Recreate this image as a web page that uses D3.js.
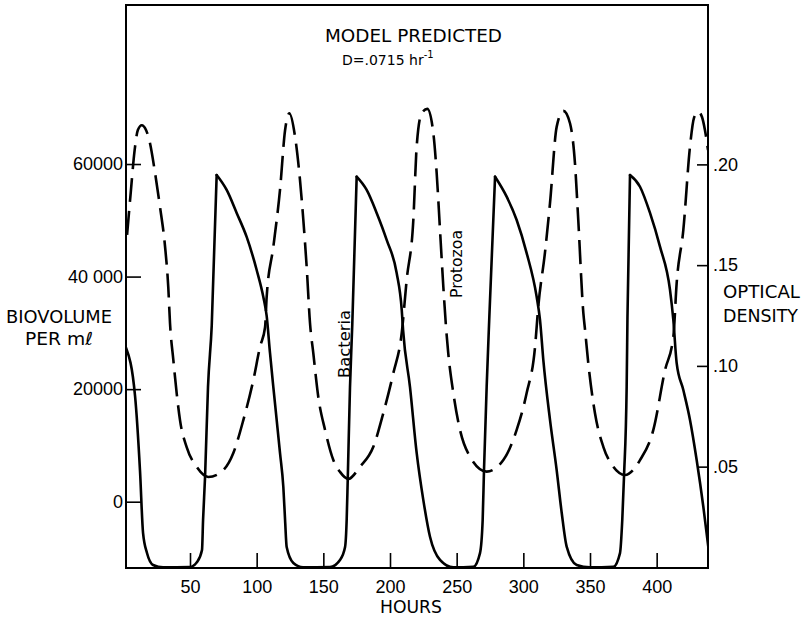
<!DOCTYPE html>
<html>
<head>
<meta charset="utf-8">
<script src="https://cdn.jsdelivr.net/npm/d3@7/dist/d3.min.js"></script>
<style>
  html, body { margin: 0; padding: 0; background: #fff; }
  svg { display: block; font-family: "DejaVu Sans", sans-serif; }
  .tick text { font-size: 18px; fill: #000; }
  .tick line { stroke: #000; stroke-width: 1.6; }
</style>
</head>
<body>
<div id="chart"></div>
<script>
// Bacteria: optical density (right axis)
const bactHours = [2.0, 8.8, 12.5, 14.8, 17.8, 22.3, 29.8, 50.0, 55.3, 59.0, 59.8, 61.3, 63.5, 66.3,
  70.0, 77.5, 85.0, 92.5, 100.0, 105.0, 107.5, 110.0, 112.5, 115.0, 117.5, 120.0, 121.3, 122.5, 127.5, 134.8,
  155.0, 162.5, 166.3, 167.5, 168.3, 170.0, 171.7,
  175.0, 182.5, 190.0, 197.5, 205.0, 208.8, 209.8, 215.0, 220.0, 225.0, 230.0, 237.5, 247.5,
  262.5, 267.5, 269.5, 270.5, 272.5, 274.5,
  278.8, 287.5, 295.0, 302.5, 310.0, 312.5, 315.0, 320.0, 325.0, 328.8, 332.5, 340.0, 350.0,
  367.5, 372.5, 374.2, 375.5, 377.5, 378.1,
  380.0, 387.5, 395.0, 402.5, 410.0, 412.5, 415.0, 420.0, 425.0, 430.0, 435.0, 438.7];
const bactOD = [0.109, 0.085, 0.048, 0.017, 0.007, 0.0012, 0.0, 0.0002, 0.0027, 0.0086, 0.0235, 0.045, 0.0895, 0.120,
  0.1947, 0.1873, 0.1759, 0.164, 0.1476, 0.1342, 0.1248, 0.1064, 0.0895, 0.0732, 0.0568, 0.0399, 0.0236, 0.0101, 0.0022, 0.0,
  0.0002, 0.0037, 0.0101, 0.0235, 0.0434, 0.0895, 0.1203,
  0.1939, 0.1873, 0.1759, 0.1625, 0.1461, 0.1278, 0.1179, 0.0895, 0.0568, 0.0334, 0.0152, 0.0037, 0.0,
  0.0003, 0.0071, 0.0235, 0.0483, 0.0897, 0.1243,
  0.1939, 0.184, 0.1724, 0.156, 0.1343, 0.1228, 0.1029, 0.0732, 0.0483, 0.027, 0.0103, 0.0012, 0.0,
  0.0003, 0.0071, 0.0235, 0.045, 0.0897, 0.1243,
  0.1947, 0.1889, 0.1759, 0.1592, 0.1377, 0.1228, 0.1014, 0.088, 0.0732, 0.0533, 0.0301, 0.0103];

// Protozoa: biovolume per ml (left axis)
const protoHours = [2.8, 5.5, 8.5, 10.9, 13.8, 17.0, 20.0, 23.8, 27.5, 31.3, 33.7, 35.0, 37.5, 40.0, 42.5, 47.5, 55.0,
  63.7, 72.5, 82.5, 90.0, 97.5, 102.5, 106.3, 107.5, 112.5, 117.5, 121.3,
  124.5, 128.8, 132.5, 135.0, 137.5, 140.0, 142.5, 146.2, 151.3, 157.5, 162.5,
  168.7, 177.5, 187.5, 195.0, 202.5, 208.8, 212.5, 217.5, 220.0, 223.8,
  228.0, 232.5, 235.0, 237.5, 240.0, 242.0, 243.7, 247.5, 252.5, 260.0,
  272.5, 285.0, 295.0, 302.5, 308.8, 311.2, 316.2, 320.0, 325.0,
  330.0, 335.0, 338.7, 341.2, 345.0, 346.3, 348.7, 353.7, 360.0, 367.5,
  376.3, 387.5, 397.5, 406.3, 412.5, 415.0, 420.0, 425.0, 428.0,
  431.2, 434.0, 436.2, 438.5];
const protoBiovol = [47400, 54800, 62500, 66050, 66900, 66050, 63700, 58400, 52400, 45300, 38150, 31750, 25200, 19300, 14500, 9700, 6200,
  4400, 5100, 8650, 14500, 21600, 27500, 31000, 36400, 45300, 55400, 66000,
  69000, 64850, 57150, 50050, 41750, 31750, 26350, 18650, 12750, 7400, 5300,
  4050, 6200, 9750, 15750, 22850, 30000, 39400, 50050, 63100, 69050,
  69800, 65500, 58400, 48300, 38200, 31100, 26350, 19300, 12750, 8000,
  5350, 7400, 12750, 19300, 27550, 34650, 44200, 53050, 66600,
  69450, 67250, 60200, 50050, 33550, 30500, 24650, 15750, 9750, 6200,
  4750, 7400, 12750, 23400, 29300, 38850, 48300, 63100, 68200,
  69300, 68350, 66050, 62500];

// Axis ticks and labels
const xTicks = [50, 100, 150, 200, 250, 300, 350, 400];
const leftTicks = [0, 20000, 40000, 60000];
const leftTickLabels = ["0", "20000", "40 000", "60000"];
const rightTicks = [0.05, 0.10, 0.15, 0.20];
const rightTickLabels = [".05", ".10", ".15", ".20"];

const width = 803, height = 618;
const margin = { top: 5, right: 95, bottom: 50, left: 126 };
const x0 = margin.left, x1 = width - margin.right;
const y0 = margin.top, y1 = height - margin.bottom;

const svg = d3.select("#chart").append("svg")
    .attr("width", width)
    .attr("height", height);

const x = d3.scaleLinear().domain([2, 438.5]).range([x0, x1]);
const yLeft = d3.scaleLinear().domain([-11780, 88255]).range([y1, y0]);
const yRight = d3.scaleLinear().domain([-0.0003, 0.2791]).range([y1, y0]);

svg.append("clipPath").attr("id", "plotclip")
    .append("rect")
    .attr("x", x0).attr("y", y0)
    .attr("width", x1 - x0).attr("height", y1 - y0);

// Axes (ticks pointing inward)
const bottomAxis = d3.axisBottom(x).tickValues(xTicks).tickSizeInner(-15).tickSizeOuter(0).tickPadding(12);
const leftAxis = d3.axisLeft(yLeft).tickValues(leftTicks)
    .tickFormat((d, i) => leftTickLabels[i]).tickSizeInner(-15).tickSizeOuter(0).tickPadding(3);
const rightAxis = d3.axisRight(yRight).tickValues(rightTicks)
    .tickFormat((d, i) => rightTickLabels[i]).tickSizeInner(-11).tickSizeOuter(0).tickPadding(5);

svg.append("g").attr("transform", `translate(0,${y1})`).call(bottomAxis);
svg.append("g").attr("transform", `translate(${x0},0)`).call(leftAxis);
svg.append("g").attr("transform", `translate(${x1},0)`).call(rightAxis);
svg.selectAll(".domain").remove();
svg.selectAll(".tick text").attr("font-family", null).attr("font-size", null);

// frame
svg.append("rect")
    .attr("x", x0).attr("y", y0)
    .attr("width", x1 - x0).attr("height", y1 - y0)
    .attr("fill", "none").attr("stroke", "#000").attr("stroke-width", 2);

const plot = svg.append("g").attr("clip-path", "url(#plotclip)");

// protozoa, smooth dashed
const protoLine = d3.line()
    .x((d, i) => x(protoHours[i]))
    .y(d => yLeft(d))
    .curve(d3.curveMonotoneX);

plot.append("path")
    .attr("d", protoLine(protoBiovol))
    .attr("fill", "none")
    .attr("stroke", "#000")
    .attr("stroke-width", 2.6)
    .attr("stroke-dasharray", "24,9");

// bacteria, solid: split at the sharp peaks so each piece stays smooth
const bactPts = bactHours.map((h, i) => [h, bactOD[i]]);
const cuts = [0];
for (let i = 1; i < bactPts.length - 1; i++) {
    if (bactPts[i][1] > bactPts[i - 1][1] && bactPts[i][1] > bactPts[i + 1][1]) cuts.push(i);
}
cuts.push(bactPts.length - 1);

const bactLine = d3.line()
    .x(d => x(d[0]))
    .y(d => yRight(d[1]))
    .curve(d3.curveMonotoneX);

for (let k = 0; k < cuts.length - 1; k++) {
    plot.append("path")
        .attr("d", bactLine(bactPts.slice(cuts[k], cuts[k + 1] + 1)))
        .attr("fill", "none")
        .attr("stroke", "#000")
        .attr("stroke-width", 2.6)
        .attr("stroke-linecap", "round");
}

// labels
const label = (txt, xPos, yPos, size, len, anchor) => {
    const t = svg.append("text")
        .attr("x", xPos).attr("y", yPos)
        .attr("font-size", size)
        .attr("text-anchor", anchor || "start")
        .text(txt);
    if (len) t.attr("textLength", len).attr("lengthAdjust", "spacingAndGlyphs");
    return t;
};

label("MODEL PREDICTED", 325, 42, 17, 177);

const dText = svg.append("text")
    .attr("x", 342).attr("y", 65)
    .attr("font-size", 14);
dText.append("tspan").text("D=.0715 hr");
dText.append("tspan").attr("dy", -7).attr("font-size", 10).text("-1");

label("BIOVOLUME", 6, 323, 18, 106);
label("PER m\u2113", 25, 345, 18, 68);
label("OPTICAL", 723, 298, 18, 77);
label("DENSITY", 723, 322, 18, 75);
label("HOURS", 380, 613, 18, 62);

svg.append("text")
    .attr("transform", "translate(350,344) rotate(-90)")
    .attr("text-anchor", "middle")
    .attr("font-size", 16)
    .attr("textLength", 68).attr("lengthAdjust", "spacingAndGlyphs")
    .text("Bacteria");

svg.append("text")
    .attr("transform", "translate(462,264) rotate(-90)")
    .attr("text-anchor", "middle")
    .attr("font-size", 16)
    .attr("textLength", 68).attr("lengthAdjust", "spacingAndGlyphs")
    .text("Protozoa");
</script>
</body>
</html>
